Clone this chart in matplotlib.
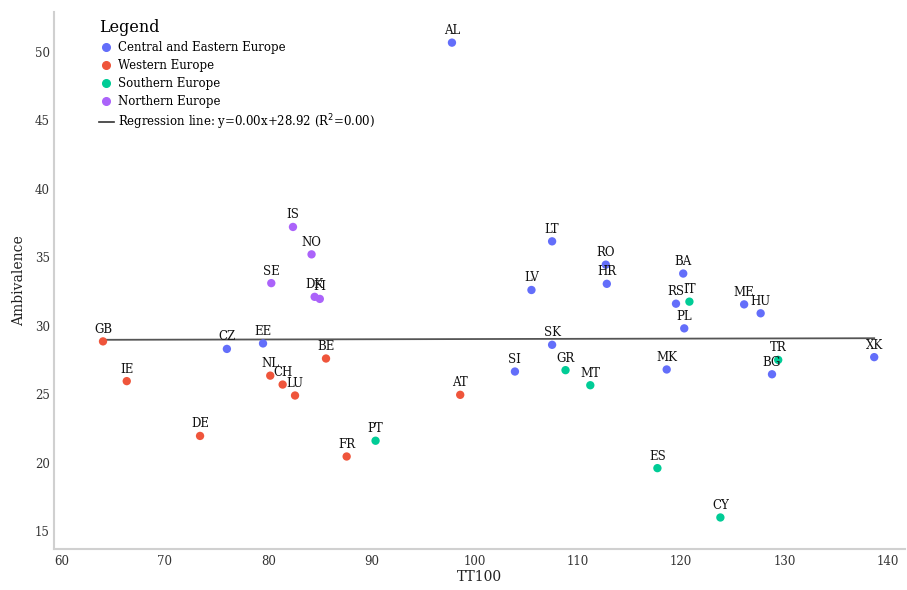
import matplotlib
matplotlib.use("Agg")
import matplotlib.pyplot as plt
from matplotlib.lines import Line2D
import numpy as np

plt.rcParams['font.family'] = ['DejaVu Serif']

countries = ["AL", "IS", "NO", "SE", "DK", "FI", "LT", "LV", "RO", "HR", "BA", "RS", "IT",
             "ME", "HU", "PL", "XK", "TR", "BG", "MK", "SK", "SI", "GR", "MT", "ES", "CY",
             "GB", "CZ", "EE", "IE", "NL", "CH", "LU", "BE", "DE", "FR", "PT", "AT"]
tt100 = [97.8, 82.4, 84.2, 80.3, 84.5, 85.0, 107.5, 105.5, 112.7, 112.8, 120.2, 119.5, 120.8,
         126.1, 127.7, 120.3, 138.7, 129.4, 128.8, 118.6, 107.5, 103.9, 108.8, 111.2, 117.7, 123.8,
         64.0, 76.0, 79.5, 66.3, 80.2, 81.4, 82.6, 85.6, 73.4, 87.6, 90.4, 98.6]
ambivalence = [50.65, 37.2, 35.2, 33.1, 32.1, 31.95, 36.15, 32.6, 34.45, 33.05, 33.8, 31.6, 31.75,
               31.55, 30.9, 29.8, 27.7, 27.5, 26.45, 26.8, 28.6, 26.65, 26.75, 25.65, 19.6, 16.0,
               28.85, 28.3, 28.7, 25.95, 26.35, 25.7, 24.9, 27.6, 21.95, 20.45, 21.6, 24.95]
regions = ["CEE", "N", "N", "N", "N", "N", "CEE", "CEE", "CEE", "CEE", "CEE", "CEE", "S",
           "CEE", "CEE", "CEE", "CEE", "S", "CEE", "CEE", "CEE", "CEE", "S", "S", "S", "S",
           "W", "CEE", "CEE", "W", "W", "W", "W", "W", "W", "W", "S", "W"]

region_names = {"CEE": "Central and Eastern Europe", "W": "Western Europe",
                "S": "Southern Europe", "N": "Northern Europe"}
region_colors = {"CEE": "#636efa", "W": "#ef553b", "S": "#00cc96", "N": "#ab63fa"}
region_order = ["CEE", "W", "S", "N"]

reg_label = "Regression line: y=0.00x+28.92 (R$^{2}$=0.00)"

fig = plt.figure(figsize=(9.07, 5.90), dpi=100)
ax = fig.add_axes([0.0595, 0.0695, 0.9385, 0.9105])

x = np.array(tt100)
y = np.array(ambivalence)
cols = [region_colors[r] for r in regions]
ax.scatter(x, y, s=36, c=cols, zorder=3, linewidths=0)

for c, xi, yi in zip(countries, x, y):
    ax.annotate(c, (xi, yi), xytext=(0, 4), textcoords="offset points",
                ha="center", va="bottom", fontsize=8.5, color="#111111", zorder=4)

slope, intercept = np.polyfit(x, y, 1)
xl = np.array([x.min(), x.max()])
ax.plot(xl, slope * xl + intercept, color="#555555", lw=1.3, zorder=2)

ax.set_xlim(59.25, 141.7)
ax.set_ylim(13.7, 52.9)
ax.set_xticks(np.arange(60, 141, 10))
ax.set_yticks(np.arange(15, 51, 5))
for s in ["top", "right"]:
    ax.spines[s].set_visible(False)
for s in ["left", "bottom"]:
    ax.spines[s].set_color("#d0d0d0")
    ax.spines[s].set_linewidth(1.5)
ax.tick_params(axis="both", length=0, labelsize=8.5, colors="#333333")
ax.tick_params(axis="x", pad=4)
ax.tick_params(axis="y", pad=3)
ax.set_xlabel("TT100", fontsize=10, color="#222222", labelpad=2)
ax.set_ylabel("Ambivalence", fontsize=10, color="#222222", labelpad=6)

handles = [Line2D([], [], marker="o", ls="", color=region_colors[r], markersize=5.5,
                  label=region_names[r]) for r in region_order]
handles.append(Line2D([], [], color="#333333", lw=1.2, label=reg_label))
leg = ax.legend(handles=handles, loc="upper left", bbox_to_anchor=(0.045, 1.0),
                frameon=False, fontsize=8.5, title="Legend", title_fontsize=11.5,
                handlelength=1.2, handletextpad=0.4, labelspacing=0.42,
                borderaxespad=0.2, alignment="left")

fig.savefig("out.png", dpi=100)
